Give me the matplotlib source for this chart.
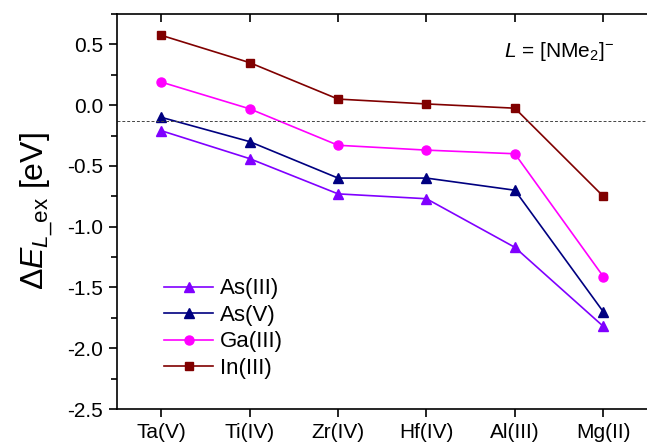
import matplotlib
matplotlib.use("Agg")
import matplotlib.pyplot as plt
from matplotlib.ticker import MultipleLocator

plt.rcParams['font.family'] = ['Liberation Sans', 'DejaVu Sans']
plt.rcParams['mathtext.fontset'] = 'custom'
plt.rcParams['mathtext.rm'] = 'Liberation Sans'
plt.rcParams['mathtext.it'] = 'Liberation Sans:italic'

categories = ["Ta(V)", "Ti(IV)", "Zr(IV)", "Hf(IV)", "Al(III)", "Mg(II)"]
as3 = [-0.21, -0.44, -0.73, -0.77, -1.17, -1.82]
as5 = [-0.10, -0.30, -0.60, -0.60, -0.70, -1.70]
ga3 = [0.19, -0.03, -0.33, -0.37, -0.40, -1.41]
in3 = [0.575, 0.35, 0.05, 0.01, -0.025, -0.75]
ref_level = -0.13

fig = plt.figure(figsize=(6.47, 4.44), dpi=100)
ax = fig.add_axes([117/647, 1 - 409/444, (647.5 - 117)/647, (409 - 14)/444])

x = list(range(len(categories)))
ax.plot(x, as3, '-^', color='#8000FF', ms=7, lw=1.2, label='As(III)')
ax.plot(x, as5, '-^', color='#000080', ms=7, lw=1.2, label='As(V)')
ax.plot(x, ga3, '-o', color='#FF00FF', ms=6.5, lw=1.2, label='Ga(III)')
ax.plot(x, in3, '-s', color='#800000', ms=6, lw=1.2, label='In(III)')
ax.axhline(ref_level, color='#444444', ls=(0, (3, 2)), lw=0.7)

ax.set_xlim(-0.5, 5.5)
ax.set_ylim(-2.5, 0.75)
ax.set_xticks(x)
ax.set_xticklabels(categories)
ax.yaxis.set_major_locator(MultipleLocator(0.5))
ax.yaxis.set_minor_locator(MultipleLocator(0.25))
ax.tick_params(axis='both', which='major', labelsize=15, length=6, width=1.2, pad=4)
ax.tick_params(axis='y', which='minor', length=4, width=1.2)
ax.tick_params(axis='x', which='both', direction='out', top=True)
ax.tick_params(axis='y', which='both', direction='out', right=True)
for t in ax.xaxis.get_major_ticks():
    t.tick2line.set_marker(3)  # inward at top
for t in ax.yaxis.get_major_ticks() + ax.yaxis.get_minor_ticks():
    t.tick2line.set_marker(1)  # inward at right
ax.yaxis.set_major_formatter(matplotlib.ticker.FuncFormatter(lambda v, p: f"{v:.1f}"))
for s in ax.spines.values():
    s.set_linewidth(1.2)

ax.set_ylabel(r'$\Delta\mathit{E}_{\mathit{L}\_\mathrm{ex}}$ [eV]', fontsize=23)
ax.yaxis.set_label_coords(-0.117, 0.5)

ax.text(0.936, 0.904, r'$\mathit{L}$ = [NMe$_2$]$^{-}$', transform=ax.transAxes,
        ha='right', va='center', fontsize=15)

leg = ax.legend(loc='lower left', bbox_to_anchor=(0.089, 0.076), frameon=False,
                fontsize=16, handlelength=2.2, handletextpad=0.3, labelspacing=0.25,
                borderaxespad=0, borderpad=0)

fig.savefig('out.png', dpi=100)
